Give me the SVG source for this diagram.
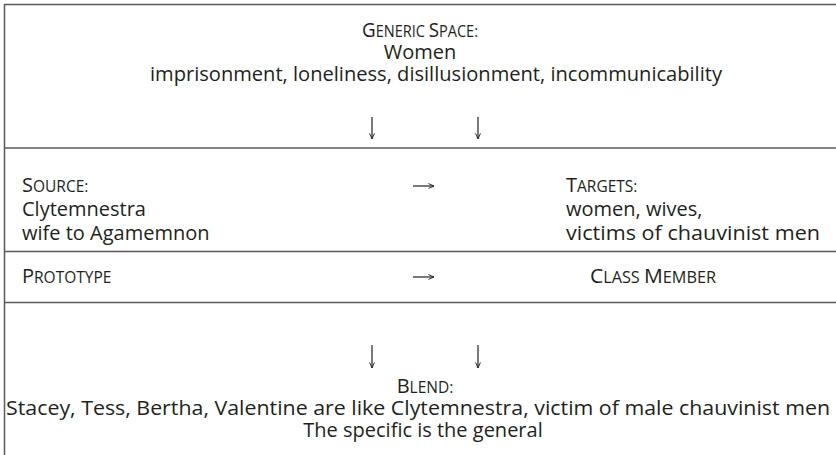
<svg xmlns="http://www.w3.org/2000/svg" width="836" height="455" viewBox="0 0 836 455">
<style>
  text { font-family: "Open Sans", "Noto Sans", "Liberation Sans", sans-serif; font-size: 20px; fill: #231f20; }
  .c { text-anchor: middle; }
  .sm { font-size: 15.5px; }
  .rule { stroke: #5a5a5a; stroke-width: 1.5; fill: none; }
  .conn { stroke: #231f20; stroke-width: 1.2; fill: none; marker-end: url(#head); }
</style>
<defs>
  <marker id="head" viewBox="0 0 10 10" refX="9" refY="5" markerWidth="7" markerHeight="7" markerUnits="userSpaceOnUse" orient="auto">
    <path d="M1,1.5 L9,5 L1,8.5" fill="none" stroke="#231f20" stroke-width="1.3"/>
  </marker>
</defs>
<rect width="836" height="455" fill="#fff"/>
<g id="frame">
  <line class="rule" x1="4.5" y1="4.5" x2="836" y2="4.5"/>
  <line class="rule" x1="4.5" y1="4" x2="4.5" y2="455"/>
  <line class="rule" x1="4.5" y1="148" x2="836" y2="148"/>
  <line class="rule" x1="4.5" y1="251.5" x2="836" y2="251.5"/>
  <line class="rule" x1="4.5" y1="302.5" x2="836" y2="302.5"/>
</g>
<g id="generic-space">
  <text class="c" x="420" y="37" textLength="116" lengthAdjust="spacingAndGlyphs">G<tspan class="sm">ENERIC </tspan>S<tspan class="sm">PACE:</tspan></text>
  <text class="c" x="420" y="59">Women</text>
  <text class="c" x="436" y="81" textLength="572" lengthAdjust="spacingAndGlyphs">imprisonment, loneliness, disillusionment, incommunicability</text>
</g>
<g id="source">
  <text x="22" y="192">S<tspan class="sm">OURCE:</tspan></text>
  <text x="22" y="216">Clytemnestra</text>
  <text x="22" y="240">wife to Agamemnon</text>
</g>
<g id="targets">
  <text x="566" y="192">T<tspan class="sm">ARGETS:</tspan></text>
  <text x="566" y="216">women, wives,</text>
  <text x="566" y="240" textLength="254" lengthAdjust="spacingAndGlyphs">victims of chauvinist men</text>
</g>
<g id="prototype">
  <text x="22" y="283">P<tspan class="sm">ROTOTYPE</tspan></text>
</g>
<g id="class-member">
  <text x="590" y="283" textLength="126" lengthAdjust="spacingAndGlyphs">C<tspan class="sm">LASS </tspan>M<tspan class="sm">EMBER</tspan></text>
</g>
<g id="blend">
  <text class="c" x="425" y="393">B<tspan class="sm">LEND:</tspan></text>
  <text class="c" x="418" y="415" textLength="824" lengthAdjust="spacingAndGlyphs">Stacey, Tess, Bertha, Valentine are like Clytemnestra, victim of male chauvinist men</text>
  <text class="c" x="423" y="437">The specific is the general</text>
</g>
<g id="connectors">
  <line class="conn" x1="372" y1="117" x2="372" y2="139"/>
  <line class="conn" x1="478" y1="117" x2="478" y2="139"/>
  <line class="conn" x1="413" y1="186" x2="434" y2="186"/>
  <line class="conn" x1="413" y1="277" x2="434" y2="277"/>
  <line class="conn" x1="372" y1="345" x2="372" y2="368"/>
  <line class="conn" x1="478" y1="345" x2="478" y2="368"/>
</g>
</svg>
